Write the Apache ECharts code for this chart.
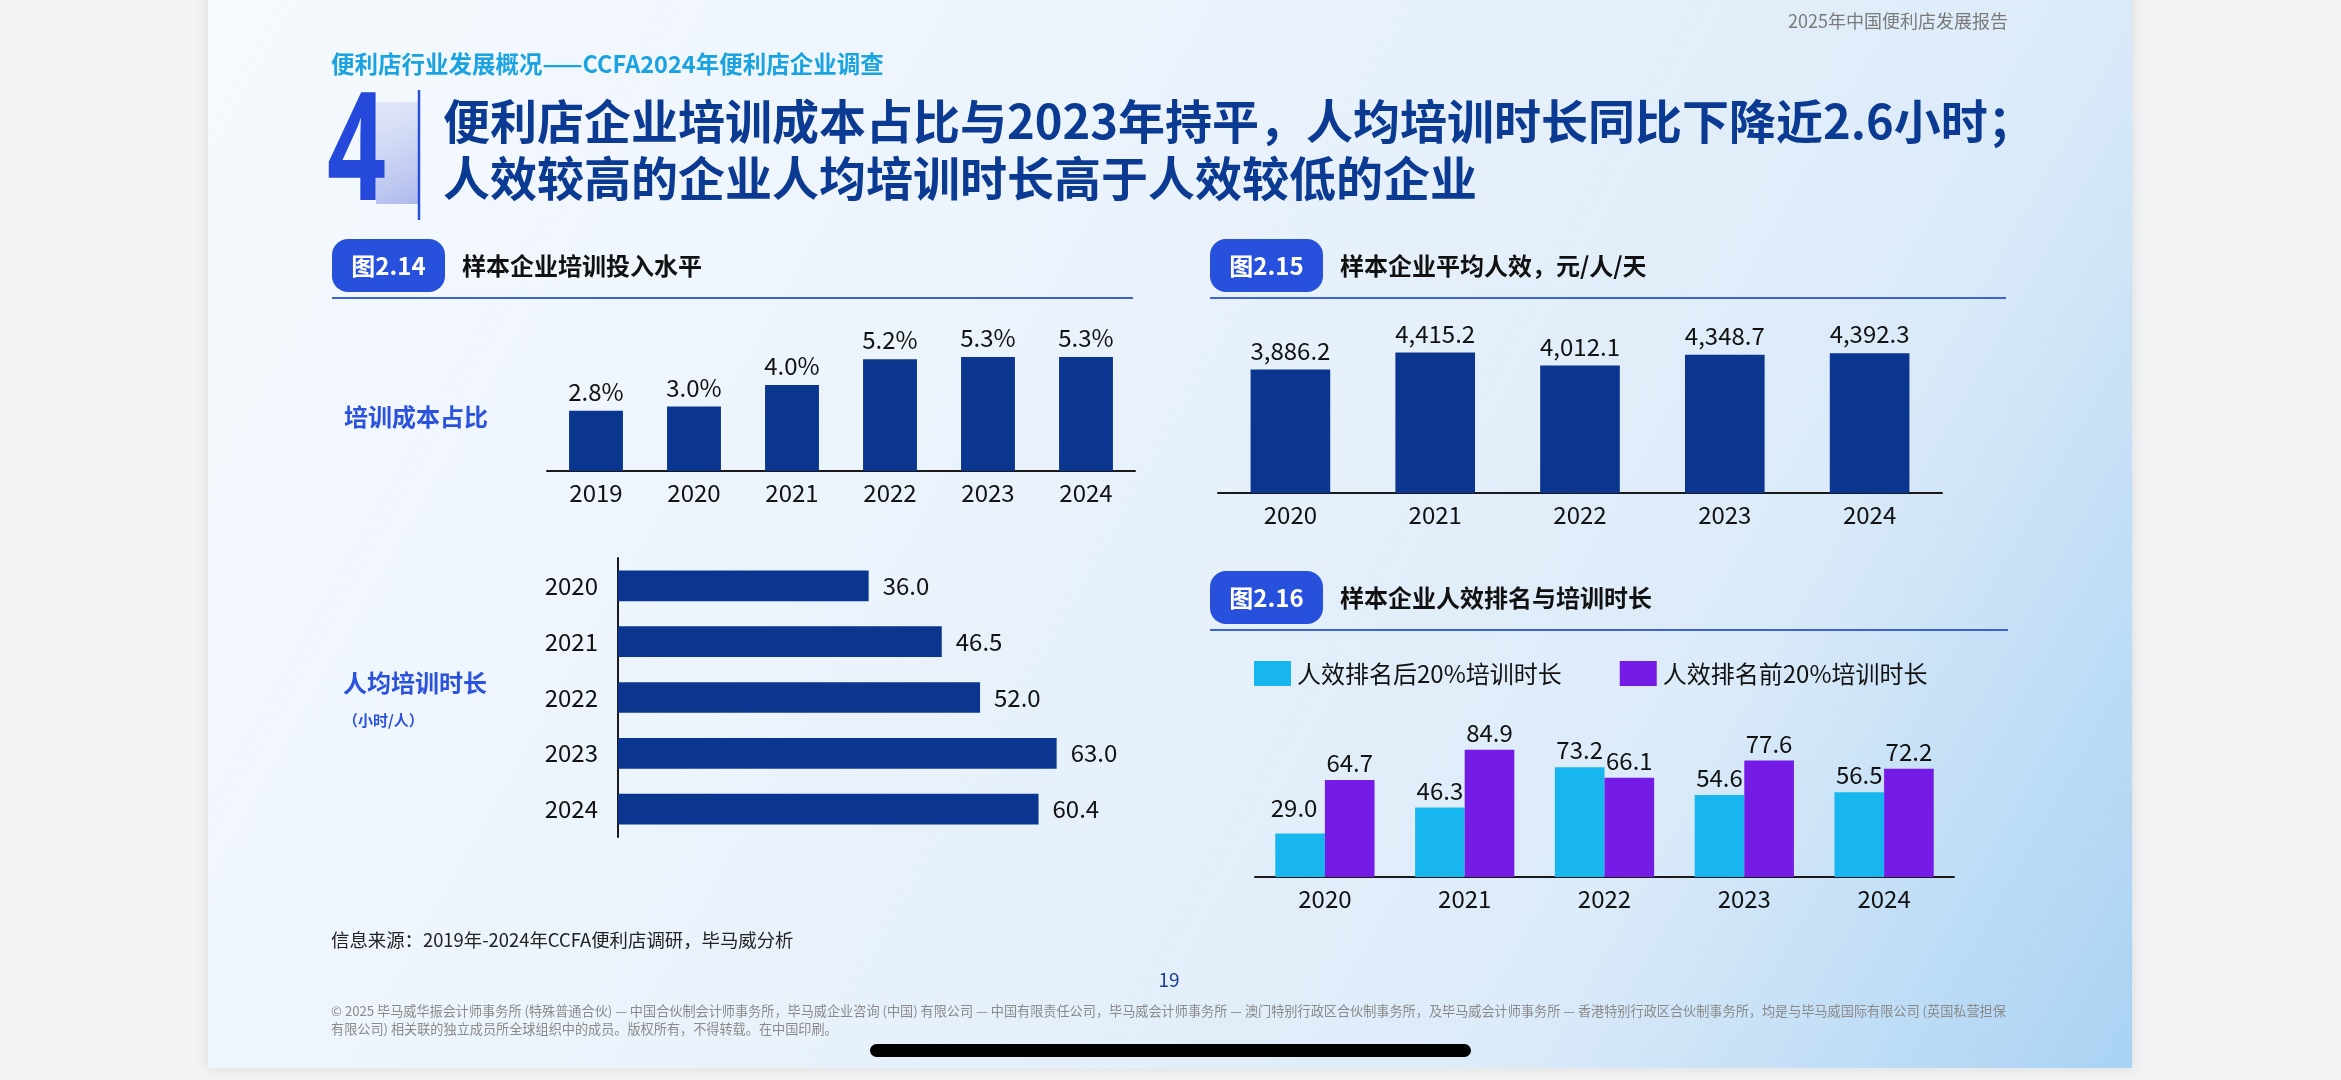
<!DOCTYPE html>
<html><head><meta charset="utf-8">
<script src="https://cdn.jsdelivr.net/npm/echarts@6/dist/echarts.min.js"></script>
<style>html,body{margin:0;padding:0;background:#f2f3f5;overflow:hidden}#c{width:2341px;height:1080px}</style>
</head><body><div id="c"></div>
<script>
// ---- data ----
const costYears = ['2019', '2020', '2021', '2022', '2023', '2024'];
const costShare = [2.8, 3.0, 4.0, 5.2, 5.3, 5.3];
const hourYears = ['2020', '2021', '2022', '2023', '2024'];
const hoursPerPerson = [36.0, 46.5, 52.0, 63.0, 60.4];
const effYears = ['2020', '2021', '2022', '2023', '2024'];
const effValues = [3886.2, 4415.2, 4012.1, 4348.7, 4392.3];
const rankYears = ['2020', '2021', '2022', '2023', '2024'];
const bottom20Hours = [29.0, 46.3, 73.2, 54.6, 56.5];
const top20Hours = [64.7, 84.9, 66.1, 77.6, 72.2];
const legendNames = ['人效排名后20%培训时长', '人效排名前20%培训时长'];

// ---- styles ----
const FF = '"Noto Sans CJK SC", "Noto Sans", sans-serif';
const NAVY = '#0a3690';
const CYAN = '#18b6ee';
const PURPLE = '#751be6';
const BLUE = '#2a52dc';

function txt(x, y, text, size, color, weight, align, extra) {
  return Object.assign({
    type: 'text', x: x, y: y, z: 10,
    style: {
      text: text, fill: color, fontSize: size, fontWeight: weight || 'normal',
      fontFamily: FF, align: align || 'left', verticalAlign: 'middle',
      textAlign: align || 'left', textVerticalAlign: 'middle'
    }
  }, extra || {});
}
function badge(x, y, label, title, lineY, lineEnd) {
  return [
    { type: 'rect', z: 5, shape: { x: x, y: y, width: 113, height: 53, r: 16 }, style: { fill: '#2750dc' } },
    txt(x + 56.5, y + 26.5, label, 24, '#ffffff', 'bold', 'center'),
    txt(x + 130, y + 26.5, title, 24, '#111111', 'bold', 'left'),
    { type: 'line', z: 5, shape: { x1: x, y1: lineY, x2: lineEnd, y2: lineY }, style: { stroke: '#3a62d9', lineWidth: 2 } }
  ];
}
const fmt1 = v => v.toFixed(1);
const fmtComma = v => v.toLocaleString('en-US', { minimumFractionDigits: 1, maximumFractionDigits: 1 });

const catAxisBase = {
  type: 'category',
  axisLine: { show: true, lineStyle: { color: '#1a1a1a', width: 2 } },
  axisTick: { show: false },
  axisLabel: { fontSize: 24, color: '#111', fontFamily: FF, margin: 10 },
  splitLine: { show: false }
};
const valAxisBase = { type: 'value', show: false, min: 0, splitLine: { show: false } };
const labelBase = { show: true, fontSize: 24, color: '#111', fontFamily: FF };

const graphics = [
  { type: 'rect', z: 0, shape: { x: 208, y: -20, width: 1924, height: 1088 },
    style: {
      fill: new echarts.graphic.LinearGradient(0, 0, 1, 1, [
        { offset: 0, color: '#f6fafe' }, { offset: 0.45, color: '#e9f2fb' },
        { offset: 0.75, color: '#dcebf9' }, { offset: 1, color: '#a9d2f3' }
      ]),
      shadowBlur: 14, shadowColor: 'rgba(0,0,0,0.10)'
    } },
  txt(2008, 21, '2025年中国便利店发展报告', 18, '#7a7a7a', 'normal', 'right'),
  txt(331, 64, '便利店行业发展概况——CCFA2024年便利店企业调查', 23.5, '#1aa3e0', 'bold', 'left'),
  { type: 'rect', z: 4, shape: { x: 376, y: 102, width: 43, height: 102 },
    style: { fill: new echarts.graphic.LinearGradient(0, 0, 1, 1, [
      { offset: 0, color: 'rgba(215,222,246,0.6)' }, { offset: 1, color: 'rgba(170,182,236,0.95)' }]) } },
  { type: 'text', x: 327, y: 157, scaleX: 0.69, z: 6,
    style: { text: '4', fill: '#2449db', fontSize: 150, fontWeight: 'bold', fontFamily: '"Noto Sans", sans-serif',
      align: 'left', verticalAlign: 'middle', textAlign: 'left', textVerticalAlign: 'middle' } },
  { type: 'line', z: 6, shape: { x1: 419, y1: 90, x2: 419, y2: 220 }, style: { stroke: '#2a4fd6', lineWidth: 2.5 } },
  txt(443, 121, '便利店企业培训成本占比与2023年持平，人均培训时长同比下降近2.6小时；', 47, '#0b3a92', 'bold', 'left'),
  txt(443, 178, '人效较高的企业人均培训时长高于人效较低的企业', 47, '#0b3a92', 'bold', 'left'),
  ...badge(332, 239, '图2.14', '样本企业培训投入水平', 298, 1133),
  ...badge(1210, 239, '图2.15', '样本企业平均人效，元/人/天', 298, 2006),
  ...badge(1210, 571, '图2.16', '样本企业人效排名与培训时长', 630, 2008),
  txt(344, 417, '培训成本占比', 24, BLUE, 'bold', 'left'),
  txt(343, 683, '人均培训时长', 24, BLUE, 'bold', 'left'),
  txt(343, 720, '（小时/人）', 15, BLUE, 'bold', 'left'),
  txt(331, 940, '信息来源：2019年-2024年CCFA便利店调研，毕马威分析', 18.4, '#222222', 'normal', 'left'),
  txt(1169, 980, '19', 19, '#1b3f8f', 'normal', 'center'),
  txt(331, 1011, '© 2025 毕马威华振会计师事务所 (特殊普通合伙) — 中国合伙制会计师事务所，毕马威企业咨询 (中国) 有限公司 — 中国有限责任公司，毕马威会计师事务所 — 澳门特别行政区合伙制事务所，及毕马威会计师事务所 — 香港特别行政区合伙制事务所，均是与毕马威国际有限公司 (英国私营担保', 13.15, '#8a8a8a', 'normal', 'left'),
  txt(331, 1029, '有限公司) 相关联的独立成员所全球组织中的成员。版权所有，不得转载。在中国印刷。', 13.15, '#8a8a8a', 'normal', 'left'),
  { type: 'rect', z: 10, shape: { x: 870, y: 1044, width: 601, height: 13, r: 6.5 }, style: { fill: '#000000' } }
];

const option = {
  animation: false,
  backgroundColor: '#f2f3f5',
  textStyle: { fontFamily: FF },
  graphic: graphics,
  legend: {
    data: legendNames, left: 1249, top: 656, itemWidth: 37, itemHeight: 25, itemGap: 58, icon: 'rect',
    textStyle: { fontSize: 24, color: '#111', fontFamily: FF, padding: [0, 0, 0, 1] }
  },
  grid: [
    { left: 547, top: 342, width: 588, height: 129 },
    { left: 618, top: 558, width: 557, height: 279 },
    { left: 1218, top: 334, width: 724, height: 159 },
    { left: 1255, top: 727, width: 699, height: 150 }
  ],
  xAxis: [
    Object.assign({}, catAxisBase, { gridIndex: 0, data: costYears }),
    Object.assign({}, valAxisBase, { gridIndex: 1, max: 80 }),
    Object.assign({}, catAxisBase, { gridIndex: 2, data: effYears }),
    Object.assign({}, catAxisBase, { gridIndex: 3, data: rankYears })
  ],
  yAxis: [
    Object.assign({}, valAxisBase, { gridIndex: 0, max: 6 }),
    Object.assign({}, catAxisBase, { gridIndex: 1, data: hourYears, inverse: true,
      axisLabel: { fontSize: 24, color: '#111', fontFamily: FF, margin: 20 } }),
    Object.assign({}, valAxisBase, { gridIndex: 2, max: 5000 }),
    Object.assign({}, valAxisBase, { gridIndex: 3, max: 100 })
  ],
  series: [
    { type: 'bar', xAxisIndex: 0, yAxisIndex: 0, data: costShare, barWidth: '55%',
      itemStyle: { color: NAVY },
      label: Object.assign({}, labelBase, { position: 'top', distance: 7, formatter: p => p.value.toFixed(1) + '%' }) },
    { type: 'bar', xAxisIndex: 1, yAxisIndex: 1, data: hoursPerPerson, barWidth: '55%',
      itemStyle: { color: NAVY },
      label: Object.assign({}, labelBase, { position: 'right', distance: 14, formatter: p => fmt1(p.value) }) },
    { type: 'bar', xAxisIndex: 2, yAxisIndex: 2, data: effValues, barWidth: '55%',
      itemStyle: { color: NAVY },
      label: Object.assign({}, labelBase, { position: 'top', distance: 7, formatter: p => fmtComma(p.value) }) },
    { type: 'bar', name: legendNames[0], xAxisIndex: 3, yAxisIndex: 3,
      data: bottom20Hours.map((v, i) => i === 0 ? { value: v, label: { offset: [-6, -9] } } : v),
      barGap: '0%', barCategoryGap: '29%',
      itemStyle: { color: CYAN },
      label: Object.assign({}, labelBase, { position: 'top', distance: 5, formatter: p => fmt1(p.value) }) },
    { type: 'bar', name: legendNames[1], xAxisIndex: 3, yAxisIndex: 3, data: top20Hours,
      barGap: '0%', barCategoryGap: '29%',
      itemStyle: { color: PURPLE },
      label: Object.assign({}, labelBase, { position: 'top', distance: 5, formatter: p => fmt1(p.value) }) }
  ]
};
const chart = echarts.init(document.getElementById('c'), null, { renderer: 'canvas' });
chart.setOption(option);
</script>
</body></html>
